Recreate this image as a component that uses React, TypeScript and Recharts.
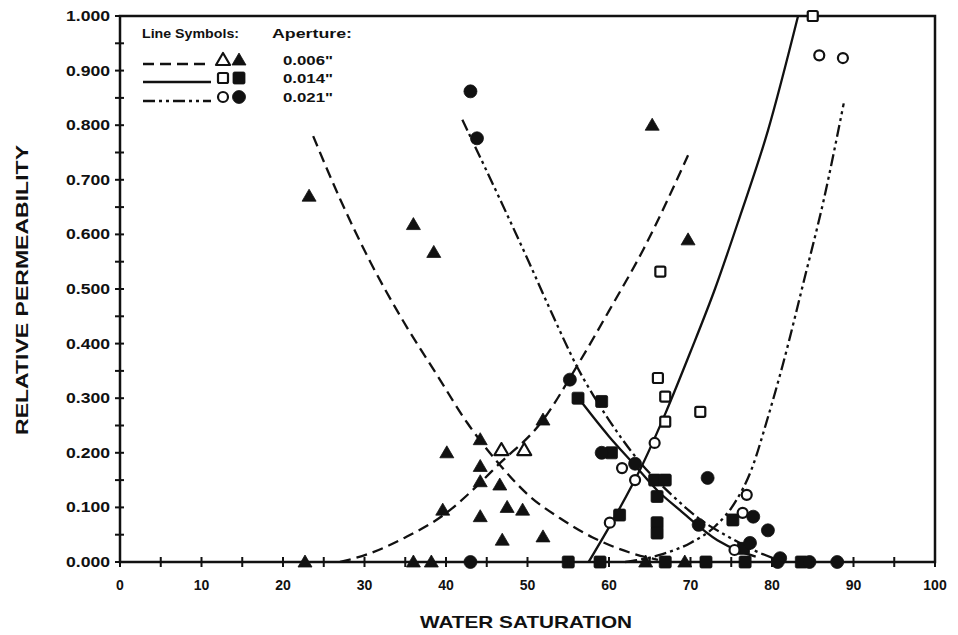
import React from "react";
import { ComposedChart, Line, Scatter, XAxis, YAxis, ReferenceArea } from "recharts";

const INK = "#111";
const FONT = "'Liberation Sans', Arial, sans-serif";

// axis ticks (major every 10 / 0.1, minor in between)
const xTicks = [0, 5, 10, 15, 20, 25, 30, 35, 40, 45, 50, 55, 60, 65, 70, 75, 80, 85, 90, 95, 100];
const yTicks = [0, 0.05, 0.1, 0.15, 0.2, 0.25, 0.3, 0.35, 0.4, 0.45, 0.5, 0.55, 0.6, 0.65, 0.7, 0.75, 0.8, 0.85, 0.9, 0.95, 1];

// 0.006" aperture
const tri006Filled = [
  { x: 23.2, y: 0.67 }, { x: 36, y: 0.618 }, { x: 38.5, y: 0.567 }, { x: 65.3, y: 0.8 },
  { x: 69.7, y: 0.59 }, { x: 40.1, y: 0.2 }, { x: 44.2, y: 0.224 }, { x: 44.2, y: 0.175 },
  { x: 44.2, y: 0.147 }, { x: 46.6, y: 0.141 }, { x: 51.9, y: 0.26 }, { x: 39.6, y: 0.095 },
  { x: 44.2, y: 0.083 }, { x: 47.5, y: 0.1 }, { x: 49.4, y: 0.095 }, { x: 46.9, y: 0.04 },
  { x: 51.9, y: 0.046 }, { x: 22.7, y: 0 }, { x: 36, y: 0 }, { x: 38.2, y: 0 },
  { x: 64.5, y: 0 }, { x: 69.3, y: 0 },
];
const tri006Open = [{ x: 46.8, y: 0.205 }, { x: 49.6, y: 0.205 }];
const kro006 = [
  { x: 23.7, y: 0.78 }, { x: 27, y: 0.665 }, { x: 30.7, y: 0.55 }, { x: 34.8, y: 0.44 },
  { x: 39, y: 0.34 }, { x: 42.6, y: 0.255 }, { x: 46.2, y: 0.185 }, { x: 50.3, y: 0.12 },
  { x: 54, y: 0.08 }, { x: 58, y: 0.045 }, { x: 62.6, y: 0.017 }, { x: 66, y: 0.004 },
];
const krw006 = [
  { x: 27, y: 0 }, { x: 30.7, y: 0.016 }, { x: 35, y: 0.045 }, { x: 39.6, y: 0.085 },
  { x: 44.2, y: 0.145 }, { x: 46.2, y: 0.175 }, { x: 51.9, y: 0.26 }, { x: 56, y: 0.357 },
  { x: 60, y: 0.46 }, { x: 64.2, y: 0.572 }, { x: 69.7, y: 0.745 },
];

// 0.014" aperture
const sq014Filled = [
  { x: 56.2, y: 0.3 }, { x: 59.1, y: 0.294 }, { x: 60.3, y: 0.2 }, { x: 61.3, y: 0.086 },
  { x: 65.6, y: 0.15 }, { x: 66.9, y: 0.15 }, { x: 65.9, y: 0.12 }, { x: 65.9, y: 0.072 },
  { x: 65.9, y: 0.053 }, { x: 75.2, y: 0.077 }, { x: 76.5, y: 0.025 }, { x: 55, y: 0 },
  { x: 58.9, y: 0 }, { x: 66.9, y: 0 }, { x: 71.9, y: 0 }, { x: 76.7, y: 0 }, { x: 83.6, y: 0 },
];
const sq014Open = [
  { x: 85, y: 1.0 }, { x: 66.3, y: 0.532 }, { x: 66, y: 0.337 }, { x: 66.9, y: 0.303 },
  { x: 66.9, y: 0.257 }, { x: 71.2, y: 0.275 },
];
const kro014 = [
  { x: 56, y: 0.305 }, { x: 60, y: 0.23 }, { x: 63, y: 0.18 }, { x: 66, y: 0.13 },
  { x: 68.7, y: 0.095 }, { x: 73.3, y: 0.04 }, { x: 76, y: 0.02 }, { x: 78, y: 0.01 },
];
const krw014 = [
  { x: 57.5, y: 0 }, { x: 61, y: 0.09 }, { x: 64, y: 0.175 }, { x: 67, y: 0.275 },
  { x: 70, y: 0.385 }, { x: 73, y: 0.5 }, { x: 76, y: 0.63 }, { x: 79.5, y: 0.79 }, { x: 83.2, y: 1.0 },
];

// 0.021" aperture
const circ021Filled = [
  { x: 43, y: 0.862 }, { x: 43.8, y: 0.776 }, { x: 55.2, y: 0.334 }, { x: 59.1, y: 0.2 },
  { x: 63.2, y: 0.18 }, { x: 72.1, y: 0.154 }, { x: 71, y: 0.068 }, { x: 77.7, y: 0.083 },
  { x: 79.5, y: 0.058 }, { x: 77.3, y: 0.035 }, { x: 81, y: 0.007 }, { x: 43, y: 0 },
  { x: 80.7, y: 0 }, { x: 84.6, y: 0 }, { x: 88, y: 0 },
];
const circ021Open = [
  { x: 85.8, y: 0.928 }, { x: 88.7, y: 0.923 }, { x: 61.6, y: 0.172 }, { x: 63.2, y: 0.15 },
  { x: 65.6, y: 0.218 }, { x: 60.1, y: 0.072 }, { x: 76.9, y: 0.123 }, { x: 76.4, y: 0.09 },
  { x: 75.4, y: 0.022 },
];
const kro021 = [
  { x: 42, y: 0.81 }, { x: 46.6, y: 0.665 }, { x: 50, y: 0.555 }, { x: 53, y: 0.455 },
  { x: 56, y: 0.36 }, { x: 60, y: 0.26 }, { x: 63.4, y: 0.19 }, { x: 67.9, y: 0.12 },
  { x: 71, y: 0.08 }, { x: 74.8, y: 0.045 }, { x: 78, y: 0.02 }, { x: 80.5, y: 0.005 },
];
const krw021 = [
  { x: 62, y: 0 }, { x: 66, y: 0.012 }, { x: 70, y: 0.035 }, { x: 73, y: 0.065 },
  { x: 75.5, y: 0.11 }, { x: 77.5, y: 0.17 }, { x: 79.4, y: 0.26 }, { x: 81.3, y: 0.36 },
  { x: 84, y: 0.52 }, { x: 86.3, y: 0.66 }, { x: 88.8, y: 0.84 },
];

const apertures = ['0.006"', '0.014"', '0.021"'];
const lineDashes = ["11 6", "", "12 4 3 4 3 4"];
const markerKinds = ["tri", "sq", "circ"];

function Marker({ cx, cy, kind, filled }: { cx: number; cy: number; kind: string; filled: boolean }) {
  const fill = filled ? INK : "#fff";
  const sw = filled ? 0.8 : 2.2;
  if (kind === "tri") {
    const pts = `${cx},${cy - 7} ${cx + 7},${cy + 5} ${cx - 7},${cy + 5}`;
    return <polygon points={pts} fill={fill} stroke={INK} strokeWidth={sw} strokeLinejoin="round" />;
  }
  if (kind === "sq") {
    const h = filled ? 6 : 5;
    return <rect x={cx - h} y={cy - h} width={h * 2} height={h * 2} rx={1.5} fill={fill} stroke={INK} strokeWidth={sw} />;
  }
  return <circle cx={cx} cy={cy} r={filled ? 6.5 : 5} fill={fill} stroke={INK} strokeWidth={sw} />;
}

const shape = (kind: string, filled: boolean) => (p: any) =>
  <Marker cx={p.cx} cy={p.cy} kind={kind} filled={filled} />;

const XTick = (p: any) => {
  const { x, y, payload } = p;
  const major = payload.value % 10 === 0;
  return (
    <g>
      <line x1={x} x2={x} y1={y - 5} y2={y + 5} stroke={INK} strokeWidth={2} />
      {major && (
        <text x={x} y={y + 28} textAnchor="middle" fontFamily={FONT} fontWeight="bold" fontSize={14} fill={INK}>
          {payload.value}
        </text>
      )}
    </g>
  );
};

const YTick = (p: any) => {
  const { x, y, payload } = p;
  const v = Math.round(payload.value * 1000);
  const major = v % 100 === 0;
  return (
    <g>
      <line x1={x - 5} x2={x + 4} y1={y} y2={y} stroke={INK} strokeWidth={2} />
      {major && (
        <text x={x - 10} y={y + 5} textAnchor="end" fontFamily={FONT} fontWeight="bold" fontSize={14}
          textLength={44} lengthAdjust="spacingAndGlyphs" fill={INK}>
          {(v / 1000).toFixed(3)}
        </text>
      )}
    </g>
  );
};

function LegendBox() {
  const rows = [62, 80, 99];
  return (
    <svg width={260} height={110} style={{ position: "absolute", left: 0, top: 0, overflow: "visible" }}>
      <text x={142} y={38} fontFamily={FONT} fontWeight="bold" fontSize={12} textLength={97} lengthAdjust="spacingAndGlyphs" fill={INK}>Line Symbols:</text>
      <text x={272} y={38} fontFamily={FONT} fontWeight="bold" fontSize={12} textLength={80} lengthAdjust="spacingAndGlyphs" fill={INK}>Aperture:</text>
      {apertures.map((a, i) => (
        <g key={a}>
          <line x1={143} x2={211} y1={rows[i] + 2} y2={rows[i] + 2} stroke={INK} strokeWidth={2.5}
            strokeDasharray={lineDashes[i] || undefined} />
          <Marker cx={223} cy={rows[i] - 2} kind={markerKinds[i]} filled={false} />
          <Marker cx={239} cy={rows[i] - 2} kind={markerKinds[i]} filled={true} />
          <text x={283} y={rows[i] + 3} fontFamily={FONT} fontWeight="bold" fontSize={13} textLength={50} lengthAdjust="spacingAndGlyphs" fill={INK}>{a}</text>
        </g>
      ))}
    </svg>
  );
}

export default function App() {
  const lineProps = { type: "monotone" as const, dataKey: "y", dot: false, stroke: INK, strokeWidth: 2.3, isAnimationActive: false, activeDot: false };
  return (
    <div style={{ position: "absolute", left: 0, top: 0, width: 958, height: 635, background: "#fff", overflow: "hidden" }}>
      <ComposedChart width={958} height={635} margin={{ top: 16, right: 23, bottom: 43, left: 60 }}>
        <XAxis type="number" dataKey="x" domain={[0, 100]} ticks={xTicks} interval={0} height={30}
          axisLine={false} tickLine={false} tickSize={0} tickMargin={0} tick={<XTick />} />
        <YAxis type="number" dataKey="y" domain={[0, 1]} ticks={yTicks} interval={0} width={60}
          axisLine={false} tickLine={false} tickSize={0} tickMargin={0} tick={<YTick />} />
        <ReferenceArea x1={0} x2={100} y1={0} y2={1} fill="none" stroke={INK} strokeWidth={2.5} fillOpacity={0} />

        <Line data={kro006} {...lineProps} strokeDasharray={lineDashes[0]} />
        <Line data={krw006} {...lineProps} strokeDasharray={lineDashes[0]} />
        <Line data={kro014} {...lineProps} />
        <Line data={krw014} {...lineProps} />
        <Line data={kro021} {...lineProps} strokeDasharray={lineDashes[2]} />
        <Line data={krw021} {...lineProps} strokeDasharray={lineDashes[2]} />

        <Scatter data={tri006Filled} dataKey="y" shape={shape("tri", true)} isAnimationActive={false} />
        <Scatter data={tri006Open} dataKey="y" shape={shape("tri", false)} isAnimationActive={false} />
        <Scatter data={sq014Open} dataKey="y" shape={shape("sq", false)} isAnimationActive={false} />
        <Scatter data={sq014Filled} dataKey="y" shape={shape("sq", true)} isAnimationActive={false} />
        <Scatter data={circ021Open} dataKey="y" shape={shape("circ", false)} isAnimationActive={false} />
        <Scatter data={circ021Filled} dataKey="y" shape={shape("circ", true)} isAnimationActive={false} />

        <text x={22} y={290} transform="rotate(-90 22 290)" textAnchor="middle" dominantBaseline="central"
          fontFamily={FONT} fontWeight="bold" fontSize={17} textLength={290} lengthAdjust="spacingAndGlyphs" fill={INK}>
          RELATIVE PERMEABILITY
        </text>
        <text x={526} y={628} textAnchor="middle" fontFamily={FONT} fontWeight="bold" fontSize={17}
          textLength={212} lengthAdjust="spacingAndGlyphs" fill={INK}>
          WATER SATURATION
        </text>
      </ComposedChart>
      <LegendBox />
    </div>
  );
}
